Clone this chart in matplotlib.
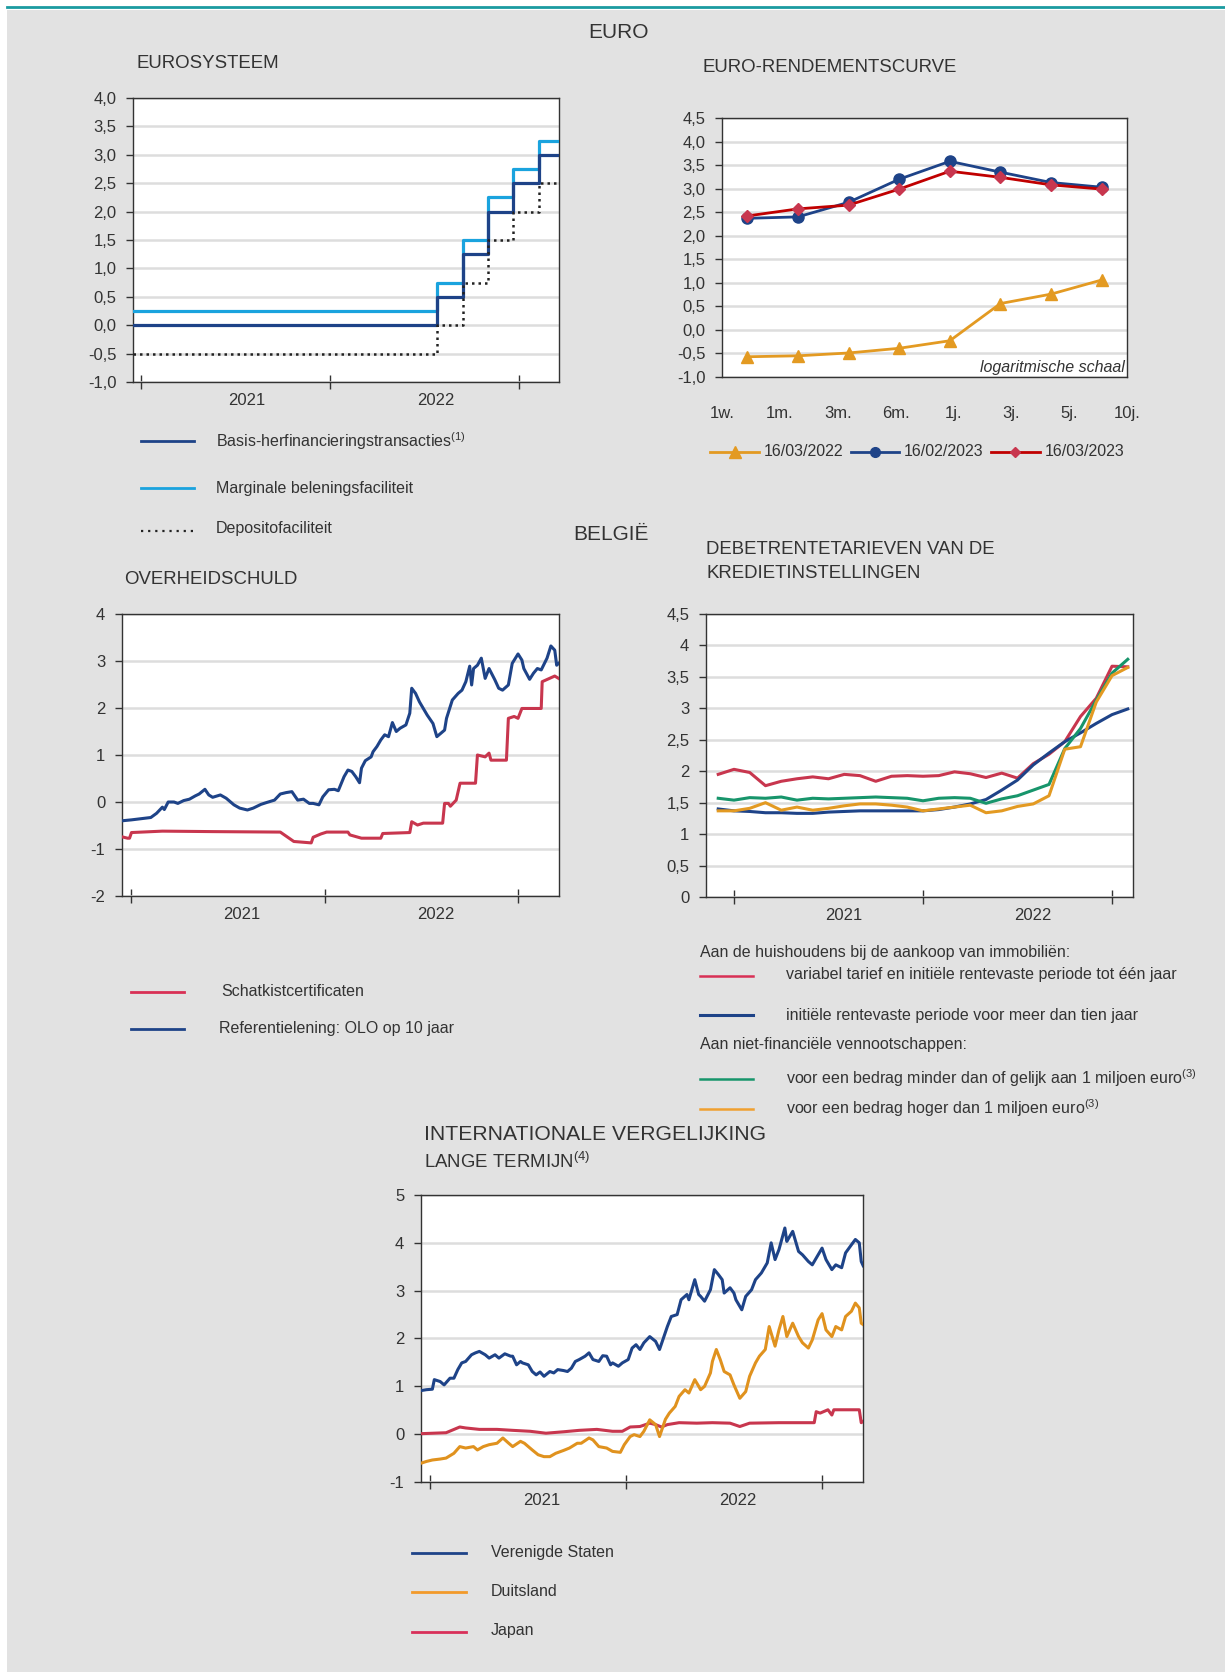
import numpy as np
import pandas as pd
import matplotlib
matplotlib.use("Agg")
import matplotlib.pyplot as plt
from matplotlib.lines import Line2D
from matplotlib.patches import Rectangle
from matplotlib.ticker import FuncFormatter

plt.rcParams['font.family'] = ['Liberation Sans', 'DejaVu Sans']
plt.rcParams['mathtext.fontset'] = 'custom'
plt.rcParams['mathtext.rm'] = 'Liberation Sans'
plt.rcParams['mathtext.it'] = 'Liberation Sans:italic'

# ---------------- data ----------------
# Eurosysteem: beleidsrentes (stappen, fractionele jaren)
ecb_dates = [2020.955, 2022.567, 2022.701, 2022.836, 2022.970, 2023.104, 2023.212]
mro_rate = [0.0, 0.5, 1.25, 2.0, 2.5, 3.0, 3.0]
mlf_rate = [0.25, 0.75, 1.5, 2.25, 2.75, 3.25, 3.25]
dfr_rate = [-0.5, 0.0, 0.75, 1.5, 2.0, 2.5, 2.5]

# Euro-rendementscurve
maturities = ['1w.', '1m.', '3m.', '6m.', '1j.', '3j.', '5j.', '10j.']
curve_160322 = [-0.57, -0.55, -0.49, -0.39, -0.23, 0.56, 0.76, 1.06]
curve_160223 = [2.37, 2.40, 2.71, 3.20, 3.58, 3.35, 3.13, 3.03]
curve_160323 = [2.42, 2.57, 2.65, 2.99, 3.37, 3.24, 3.08, 2.99]

# Overheidschuld
olo_t = [2020.95, 2021.00, 2021.06, 2021.10, 2021.13, 2021.16, 2021.17, 2021.19, 2021.22, 2021.24,
         2021.27, 2021.30, 2021.33, 2021.35, 2021.38, 2021.40, 2021.42, 2021.46, 2021.49, 2021.53,
         2021.56, 2021.60, 2021.63, 2021.67, 2021.70, 2021.74, 2021.77, 2021.80, 2021.83, 2021.86,
         2021.89, 2021.92, 2021.94, 2021.97, 2021.99, 2022.02, 2022.05, 2022.07, 2022.10, 2022.12,
         2022.14, 2022.16, 2022.18, 2022.19, 2022.21, 2022.24, 2022.25, 2022.27, 2022.29, 2022.31,
         2022.33, 2022.35, 2022.37, 2022.39, 2022.42, 2022.44, 2022.45, 2022.47, 2022.49, 2022.51,
         2022.53, 2022.56, 2022.58, 2022.60, 2022.62, 2022.63, 2022.66, 2022.69, 2022.71, 2022.73,
         2022.75, 2022.76, 2022.77, 2022.79, 2022.81, 2022.83, 2022.85, 2022.88, 2022.90, 2022.92,
         2022.95, 2022.97, 2023.00, 2023.02, 2023.03, 2023.06, 2023.08, 2023.10, 2023.12, 2023.15,
         2023.17, 2023.19, 2023.20, 2023.21]
olo_10y = [-0.40, -0.38, -0.35, -0.33, -0.24, -0.11, -0.16, 0.00, 0.00, -0.03,
           0.03, 0.06, 0.13, 0.17, 0.27, 0.15, 0.10, 0.15, 0.08, -0.06,
           -0.13, -0.17, -0.13, -0.05, -0.01, 0.04, 0.17, 0.20, 0.22, 0.04,
           0.06, -0.03, -0.03, -0.06, 0.11, 0.26, 0.27, 0.24, 0.54, 0.68,
           0.65, 0.54, 0.41, 0.72, 0.88, 0.96, 1.07, 1.18, 1.32, 1.43,
           1.39, 1.69, 1.50, 1.57, 1.64, 1.89, 2.42, 2.31, 2.13, 1.99,
           1.85, 1.67, 1.39, 1.46, 1.53, 1.78, 2.17, 2.31, 2.38, 2.56,
           2.89, 2.49, 2.84, 2.91, 3.06, 2.63, 2.84, 2.60, 2.42, 2.38,
           2.49, 2.95, 3.15, 3.02, 2.84, 2.61, 2.74, 2.84, 2.81, 3.06,
           3.32, 3.23, 2.91, 2.95]
tbill_t = [2020.95, 2020.98, 2020.99, 2021.00, 2021.16, 2021.42, 2021.77, 2021.84, 2021.93, 2021.94,
           2021.98, 2022.01, 2022.12, 2022.13, 2022.19, 2022.29, 2022.30, 2022.44, 2022.45, 2022.48,
           2022.51, 2022.61, 2022.62, 2022.64, 2022.65, 2022.68, 2022.70, 2022.78, 2022.79, 2022.83,
           2022.85, 2022.86, 2022.94, 2022.95, 2022.98, 2023.00, 2023.02, 2023.12, 2023.125, 2023.19,
           2023.21]
tbill = [-0.74, -0.77, -0.77, -0.65, -0.62, -0.63, -0.64, -0.84, -0.87, -0.75,
         -0.68, -0.64, -0.64, -0.70, -0.77, -0.77, -0.67, -0.65, -0.42, -0.49,
         -0.45, -0.45, -0.03, -0.03, -0.09, 0.04, 0.40, 0.40, 1.00, 0.96,
         1.04, 0.89, 0.89, 1.78, 1.82, 1.78, 1.99, 1.99, 2.56, 2.68,
         2.63]

# Debetrentetarieven (maandelijks)
debet_months = pd.date_range('2020-12-01', '2023-02-01', freq='MS')
rate_var_1y = [1.95, 2.03, 1.98, 1.77, 1.84, 1.88, 1.91, 1.88, 1.95, 1.93, 1.84, 1.92, 1.93, 1.92,
               1.93, 1.99, 1.96, 1.90, 1.97, 1.89, 2.12, 2.27, 2.47, 2.87, 3.16, 3.67, 3.66]
rate_fix_10y = [1.40, 1.37, 1.36, 1.34, 1.34, 1.33, 1.33, 1.35, 1.36, 1.37, 1.37, 1.37, 1.37, 1.37,
                1.39, 1.43, 1.48, 1.55, 1.70, 1.86, 2.10, 2.29, 2.47, 2.61, 2.76, 2.90, 2.99]
rate_nfc_small = [1.57, 1.54, 1.58, 1.57, 1.59, 1.54, 1.57, 1.56, 1.57, 1.58, 1.59, 1.58, 1.57, 1.53,
                  1.57, 1.58, 1.57, 1.49, 1.56, 1.61, 1.70, 1.79, 2.36, 2.68, 3.13, 3.56, 3.78]
rate_nfc_large = [1.37, 1.37, 1.41, 1.50, 1.38, 1.43, 1.38, 1.41, 1.45, 1.48, 1.48, 1.46, 1.43, 1.37,
                  1.40, 1.43, 1.46, 1.34, 1.37, 1.44, 1.48, 1.61, 2.35, 2.39, 3.10, 3.52, 3.65]

# Internationale vergelijking, lange termijn
us_t = [2020.95, 2020.98, 2021.01, 2021.02, 2021.05, 2021.07, 2021.10, 2021.12, 2021.14, 2021.16,
        2021.18, 2021.21, 2021.23, 2021.25, 2021.28, 2021.30, 2021.33, 2021.35, 2021.38, 2021.41,
        2021.42, 2021.44, 2021.46, 2021.47, 2021.50, 2021.52, 2021.54, 2021.56, 2021.58, 2021.61,
        2021.63, 2021.65, 2021.68, 2021.70, 2021.72, 2021.74, 2021.76, 2021.79, 2021.81, 2021.83,
        2021.86, 2021.88, 2021.90, 2021.92, 2021.93, 2021.96, 2021.98, 2022.01, 2022.03, 2022.05,
        2022.07, 2022.09, 2022.12, 2022.15, 2022.17, 2022.19, 2022.21, 2022.23, 2022.26, 2022.28,
        2022.31, 2022.32, 2022.35, 2022.37, 2022.38, 2022.40, 2022.43, 2022.45, 2022.47, 2022.49,
        2022.50, 2022.53, 2022.55, 2022.56, 2022.59, 2022.61, 2022.64, 2022.66, 2022.69, 2022.72,
        2022.74, 2022.76, 2022.78, 2022.81, 2022.82, 2022.83, 2022.85, 2022.88, 2022.90, 2022.93,
        2022.95, 2022.98, 2023.00, 2023.02, 2023.05, 2023.07, 2023.10, 2023.12, 2023.15, 2023.17,
        2023.19, 2023.20, 2023.21]
us_10y = [0.91, 0.93, 0.94, 1.14, 1.10, 1.03, 1.17, 1.17, 1.35, 1.49,
          1.52, 1.66, 1.70, 1.73, 1.66, 1.59, 1.66, 1.59, 1.68, 1.63,
          1.63, 1.45, 1.52, 1.49, 1.45, 1.31, 1.24, 1.30, 1.21, 1.31,
          1.28, 1.35, 1.33, 1.31, 1.38, 1.52, 1.56, 1.63, 1.70, 1.56,
          1.52, 1.64, 1.63, 1.45, 1.49, 1.42, 1.49, 1.56, 1.80, 1.87,
          1.77, 1.91, 2.04, 1.94, 1.77, 2.01, 2.25, 2.46, 2.50, 2.81,
          2.92, 2.81, 3.23, 2.92, 2.88, 2.78, 3.02, 3.44, 3.34, 3.23,
          2.95, 3.06, 2.95, 2.81, 2.60, 2.88, 3.02, 3.23, 3.37, 3.58,
          4.00, 3.65, 3.86, 4.31, 4.03, 4.10, 4.24, 3.82, 3.75, 3.61,
          3.54, 3.75, 3.89, 3.65, 3.44, 3.54, 3.48, 3.79, 3.96, 4.07,
          4.00, 3.61, 3.52]
de_t = [2020.95, 2020.98, 2021.01, 2021.05, 2021.08, 2021.12, 2021.15, 2021.18, 2021.22, 2021.24,
        2021.27, 2021.30, 2021.34, 2021.37, 2021.40, 2021.42, 2021.46, 2021.48, 2021.52, 2021.55,
        2021.58, 2021.61, 2021.64, 2021.68, 2021.71, 2021.75, 2021.77, 2021.81, 2021.83, 2021.86,
        2021.90, 2021.93, 2021.97, 2021.99, 2022.02, 2022.04, 2022.07, 2022.09, 2022.12, 2022.15,
        2022.17, 2022.20, 2022.22, 2022.25, 2022.27, 2022.30, 2022.32, 2022.35, 2022.38, 2022.40,
        2022.43, 2022.44, 2022.46, 2022.48, 2022.50, 2022.53, 2022.55, 2022.58, 2022.61, 2022.63,
        2022.66, 2022.68, 2022.71, 2022.73, 2022.76, 2022.78, 2022.80, 2022.82, 2022.85, 2022.88,
        2022.90, 2022.93, 2022.95, 2022.98, 2023.00, 2023.02, 2023.05, 2023.07, 2023.10, 2023.12,
        2023.15, 2023.17, 2023.19, 2023.20, 2023.21]
de_10y = [-0.61, -0.57, -0.54, -0.52, -0.50, -0.40, -0.26, -0.29, -0.26, -0.33,
          -0.26, -0.22, -0.19, -0.08, -0.19, -0.26, -0.15, -0.19, -0.33, -0.43,
          -0.47, -0.47, -0.40, -0.34, -0.29, -0.19, -0.19, -0.08, -0.12, -0.26,
          -0.29, -0.36, -0.38, -0.22, -0.05, -0.01, -0.05, 0.06, 0.30, 0.20,
          -0.05, 0.31, 0.44, 0.58, 0.79, 0.93, 0.86, 1.14, 0.93, 1.00,
          1.28, 1.52, 1.77, 1.56, 1.31, 1.24, 1.03, 0.75, 0.89, 1.21,
          1.49, 1.63, 1.77, 2.25, 1.84, 2.18, 2.46, 2.04, 2.32, 2.04,
          1.91, 1.80, 1.97, 2.39, 2.52, 2.18, 2.04, 2.25, 2.18, 2.46,
          2.57, 2.74, 2.64, 2.32, 2.29]
jp_t = [2020.95, 2021.08, 2021.15, 2021.18, 2021.25, 2021.34, 2021.42, 2021.51, 2021.59, 2021.68,
        2021.76, 2021.85, 2021.93, 2021.98, 2022.02, 2022.07, 2022.12, 2022.15, 2022.18, 2022.21,
        2022.27, 2022.36, 2022.44, 2022.53, 2022.58, 2022.63, 2022.78, 2022.96, 2022.97, 2022.99,
        2023.03, 2023.05, 2023.06, 2023.19, 2023.20, 2023.21]
jp_10y = [0.01, 0.03, 0.15, 0.13, 0.10, 0.10, 0.08, 0.06, 0.02, 0.05,
          0.08, 0.10, 0.06, 0.06, 0.15, 0.16, 0.23, 0.20, 0.15, 0.20,
          0.24, 0.23, 0.24, 0.23, 0.16, 0.23, 0.24, 0.24, 0.47, 0.44,
          0.51, 0.40, 0.51, 0.51, 0.24, 0.27]

# ---------------- style ----------------
W, H = 1225, 1672
TXT = '#333333'
NAVY = '#1e4388'
LBLUE = '#1aa3de'
CRIMSON = '#c8364e'
DARKRED = '#c00000'
ORANGE = '#e39a22'
GREEN = '#17956b'
BG = '#e2e2e2'
TICK_FS = 12

fig = plt.figure(figsize=(W / 100, H / 100), dpi=100, facecolor='white')
fig.patches.append(Rectangle((7 / W, 0), 1 - 7 / W, 1 - 10 / H, transform=fig.transFigure,
                             facecolor=BG, edgecolor='none', zorder=-10))
fig.add_artist(Line2D([7 / W, 1], [1 - 7 / H, 1 - 7 / H], transform=fig.transFigure,
                      color='#1b9ba0', lw=2.0))


def fy(y):
    return 1 - y / H


def ftext(x, y, s, size=11.5, **kw):
    kw.setdefault('va', 'center')
    fig.text(x / W, fy(y), s, fontsize=size, color=TXT, **kw)


def fline(x0, x1, y, **kw):
    fig.add_artist(Line2D([x0 / W, x1 / W], [fy(y), fy(y)], transform=fig.transFigure, **kw))


def make_axes(l, t, r, b):
    ax = fig.add_axes([l / W, fy(b), (r - l) / W, (b - t) / H])
    ax.set_facecolor('white')
    for s in ax.spines.values():
        s.set_color('#333333')
        s.set_linewidth(1.0)
    ax.tick_params(axis='y', direction='out', length=5, width=1, colors='#333333',
                   labelsize=TICK_FS, pad=7, labelcolor=TXT)
    ax.grid(axis='y', color='#dddddd', linewidth=1.8)
    ax.set_axisbelow(True)
    return ax


def year_axis(ax, x0, x1, shift=0.07):
    ax.set_xlim(x0, x1)
    ax.set_xticks([2021, 2022, 2023])
    ax.set_xticklabels([])
    ax.set_xticks([2021.5 + shift, 2022.5 + shift], minor=True)
    ax.set_xticklabels(['2021', '2022'], minor=True)
    ax.tick_params(axis='x', which='major', direction='inout', length=10, width=1, colors='#333333')
    ax.tick_params(axis='x', which='minor', length=0, labelsize=TICK_FS, pad=8, labelcolor=TXT)


def comma(fmt):
    return FuncFormatter(lambda v, p: (fmt % v).replace('.', ','))


# ---------------- titles ----------------
ftext(618, 32, 'EURO', size=15, ha='center')
ftext(611, 534, 'BELGIË', size=15, ha='center')
ftext(136, 64, 'EUROSYSTEEM', size=13.4)
ftext(702, 68, 'EURO-RENDEMENTSCURVE', size=13.4)
ftext(124, 580, 'OVERHEIDSCHULD', size=13.4)
ftext(706, 550, 'DEBETRENTETARIEVEN VAN DE', size=13.4)
ftext(706, 574, 'KREDIETINSTELLINGEN', size=13.4)
ftext(424, 1134, 'INTERNATIONALE VERGELIJKING', size=15.2)
ftext(424, 1162, 'LANGE TERMIJN$^{(4)}$', size=13.4)

# ---------------- Eurosysteem ----------------
ax = make_axes(133, 98, 559, 382)
ax.step(ecb_dates, mlf_rate, where='post', color=LBLUE, lw=2.3, zorder=3)
ax.step(ecb_dates, mro_rate, where='post', color=NAVY, lw=2.3, zorder=4)
ax.step(ecb_dates, dfr_rate, where='post', color='#222222', lw=1.8, ls=(0, (1, 1.6)), zorder=5)
ax.set_ylim(-1, 4)
ax.set_yticks(np.arange(-1, 4.01, 0.5))
ax.yaxis.set_major_formatter(comma('%.1f'))
year_axis(ax, 2020.955, 2023.211, shift=0.06)

fline(141, 194, 441, color=NAVY, lw=2)
ftext(216, 441, 'Basis-herfinancieringstransacties$^{(1)}$')
fline(141, 194, 488, color=LBLUE, lw=2)
ftext(216, 488, 'Marginale beleningsfaciliteit')
fline(141, 194, 531, color='#222222', lw=1.6, ls=(0, (1, 2.2)))
ftext(216, 529, 'Depositofaciliteit')

# ---------------- Rendementscurve ----------------
ax = make_axes(722, 118, 1127, 377)
xs = np.arange(len(maturities))
ax.plot(xs, curve_160322, color=ORANGE, lw=2, marker='^', ms=8, zorder=3)
ax.plot(xs, curve_160223, color=NAVY, lw=2, marker='o', ms=8, zorder=4)
ax.plot(xs, curve_160323, color=DARKRED, lw=2, marker='D', ms=6, mfc='#c8364e', mec='#c8364e', zorder=5)
ax.set_xlim(-0.5, len(maturities) - 0.5)
ax.set_ylim(-1, 4.5)
ax.set_yticks(np.arange(-1, 4.51, 0.5))
ax.yaxis.set_major_formatter(comma('%.1f'))
ax.set_xticks(-0.5 + np.arange(len(maturities)) * len(maturities) / (len(maturities) - 1))
ax.set_xticklabels(maturities)
ax.tick_params(axis='x', length=0, labelsize=TICK_FS, pad=21, labelcolor=TXT)
ax.text(0.995, 0.035, 'logaritmische schaal', transform=ax.transAxes, ha='right', va='center',
        fontsize=11.5, style='italic', color=TXT)

for (x0, x1, xt, col, mk, ms, lab) in [(710, 759, 764, ORANGE, '^', 8, '16/03/2022'),
                                        (851, 899, 904, NAVY, 'o', 7, '16/02/2023'),
                                        (991, 1040, 1045, DARKRED, 'D', 5, '16/03/2023')]:
    fline(x0, x1, 452, color=col, lw=2)
    mc = '#c8364e' if mk == 'D' else col
    fig.add_artist(Line2D([(x0 + x1) / 2 / W], [fy(452)], transform=fig.transFigure,
                          marker=mk, ms=ms, color=mc, ls='none'))
    ftext(xt, 452, lab, size=11.5)

# ---------------- Overheidschuld ----------------
ax = make_axes(122, 614, 559, 896)
ax.plot(tbill_t, tbill, color=CRIMSON, lw=2.2, zorder=3)
ax.plot(olo_t, olo_10y, color=NAVY, lw=2.2, zorder=4)
ax.set_ylim(-2, 4)
ax.set_yticks(np.arange(-2, 4.01, 1))
ax.yaxis.set_major_formatter(comma('%g'))
year_axis(ax, 2020.951, 2023.212, shift=0.073)

fline(131, 184, 992, color='#d83055', lw=2)
ftext(221, 992, 'Schatkistcertificaten')
fline(131, 184, 1029, color=NAVY, lw=2)
ftext(219, 1029, 'Referentielening: OLO op 10 jaar')

# ---------------- Debetrentetarieven ----------------
ax = make_axes(706, 614, 1133, 897)
mt = debet_months.year + (debet_months.month - 1) / 12
ax.plot(mt, rate_var_1y, color=CRIMSON, lw=2.2, zorder=3)
ax.plot(mt, rate_fix_10y, color=NAVY, lw=2.2, zorder=3)
ax.plot(mt, rate_nfc_small, color=GREEN, lw=2.2, zorder=4)
ax.plot(mt, rate_nfc_large, color=ORANGE, lw=2.2, zorder=5)
ax.set_ylim(0, 4.5)
ax.set_yticks(np.arange(0, 4.51, 0.5))
ax.yaxis.set_major_formatter(comma('%g'))
year_axis(ax, 2020.852, 2023.111, shift=0.079)

ftext(700, 953, 'Aan de huishoudens bij de aankoop van immobiliën:')
fline(700, 753, 976, color='#d83055', lw=1.8)
ftext(786, 975, 'variabel tarief en initiële rentevaste periode tot één jaar')
fline(700, 753, 1015, color=NAVY, lw=2.2)
ftext(786, 1015, 'initiële rentevaste periode voor meer dan tien jaar')
ftext(700, 1045, 'Aan niet-financiële vennootschappen:')
fline(700, 753, 1079, color=GREEN, lw=1.8)
ftext(786, 1078, 'voor een bedrag minder dan of gelijk aan 1 miljoen euro$^{(3)}$')
fline(700, 753, 1109, color='#f0a030', lw=1.8)
ftext(786, 1108, 'voor een bedrag hoger dan 1 miljoen euro$^{(3)}$')

# ---------------- Internationale vergelijking ----------------
ax = make_axes(421, 1195, 863, 1482)
ax.plot(jp_t, jp_10y, color=CRIMSON, lw=2.2, zorder=3)
ax.plot(de_t, de_10y, color='#e0921e', lw=2.2, zorder=4)
ax.plot(us_t, us_10y, color=NAVY, lw=2.2, zorder=5)
ax.set_ylim(-1, 5)
ax.set_yticks(np.arange(-1, 5.01, 1))
ax.yaxis.set_major_formatter(comma('%g'))
year_axis(ax, 2020.952, 2023.209, shift=0.071)

fline(412, 466, 1553, color=NAVY, lw=2)
ftext(491, 1553, 'Verenigde Staten')
fline(412, 466, 1592, color='#f29a2a', lw=2)
ftext(491, 1591, 'Duitsland')
fline(412, 466, 1632, color='#d8305a', lw=2)
ftext(491, 1631, 'Japan')

fig.savefig('out.png', dpi=100, facecolor=fig.get_facecolor())
